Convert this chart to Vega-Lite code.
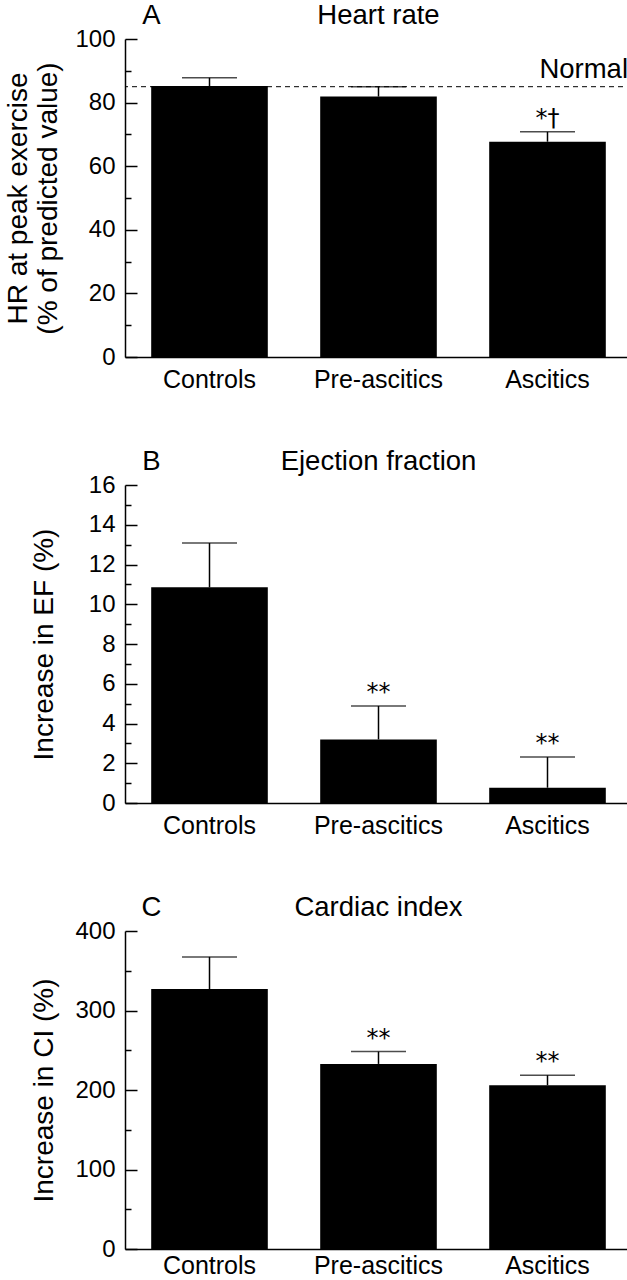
{
  "$schema": "https://vega.github.io/schema/vega-lite/v6.json",
  "background": "white",
  "padding": {"left": 4, "top": 2, "right": 0, "bottom": 0},
  "spacing": 128,
  "bounds": "flush",
  "config": {
    "view": {"stroke": null},
    "font": "Liberation Sans",
    "axis": {
      "domainColor": "black", "domainWidth": 1.5, "tickColor": "black", "tickWidth": 1.5,
      "labelColor": "black", "titleColor": "black", "labelFontSize": 24, "titleFontSize": 28,
      "titleFontWeight": "normal", "grid": false, "labelFont": "Liberation Sans", "titleFont": "Liberation Sans"
    },
    "axisX": {"tickSize": -14, "tickOffset": 84.5, "labelPadding": 24, "labelAngle": 0, "labelFontSize": 25},
    "axisY": {"tickSize": -12, "labelPadding": 22},
    "text": {"font": "Liberation Sans", "color": "black", "fontWeight": "normal"}
  },
  "vconcat": [
    {
      "width": 507, "height": 318,
      "data": {"values": [
        {"group": "Controls", "value": 85.2, "upper": 87.8},
        {"group": "Pre-ascitics", "value": 81.9, "upper": 85.0},
        {"group": "Ascitics", "value": 67.7, "upper": 70.8, "sig": "*†"}
      ]},
      "resolve": {"axis": {"y": "independent"}},
      "layer": [
        {"mark": {"type": "bar", "color": "black"},
         "encoding": {
           "x": {"field": "group", "type": "nominal", "title": null, "scale": {"domain": ["Controls", "Pre-ascitics", "Ascitics"], "paddingInner": 0.31, "paddingOuter": 0.155}},
           "y": {"field": "value", "type": "quantitative", "scale": {"domain": [0, 100], "nice": false},
                 "axis": {"values": [0, 20, 40, 60, 80, 100], "title": ["HR at peak exercise", "(% of predicted value)"], "titlePadding": 12, "orient": "left"}}}},
        {"mark": {"type": "rule", "color": "black", "strokeWidth": 1.5},
         "encoding": {
           "x": {"field": "group", "type": "nominal", "title": null},
           "y": {"field": "value", "type": "quantitative", "axis": {"values": [10, 30, 50, 70, 90], "labels": false, "domain": false, "title": null, "tickSize": -6, "orient": "left"}},
           "y2": {"field": "upper"}}},
        {"mark": {"type": "tick", "color": "black", "thickness": 1.5, "size": 55},
         "encoding": {
           "x": {"field": "group", "type": "nominal", "title": null},
           "y": {"field": "upper", "type": "quantitative", "axis": null}}},
        {"transform": [{"filter": "isValid(datum.sig)"}],
         "mark": {"type": "text", "baseline": "alphabetic", "dy": -6, "fontSize": 24, "font": "DejaVu Sans"},
         "encoding": {
           "x": {"field": "group", "type": "nominal", "title": null},
           "y": {"field": "upper", "type": "quantitative", "axis": null},
           "text": {"field": "sig"}}},
        {"data": {"values": [{"label": "Normal", "level": 85}]},
         "layer": [
           {"mark": {"type": "rule", "strokeDash": [5, 4], "strokeWidth": 1, "color": "black"},
            "encoding": {"y": {"field": "level", "type": "quantitative", "axis": null}}},
           {"mark": {"type": "text", "align": "right", "baseline": "alphabetic", "dy": -9, "dx": -4, "fontSize": 27.5, "x": {"expr": "width"}},
            "encoding": {"y": {"field": "level", "type": "quantitative", "axis": null}, "text": {"field": "label"}}}
         ]},
        {"data": {"values": [{"panel": "A", "title": "Heart rate", "top": 100}]},
         "layer": [
           {"mark": {"type": "text", "align": "center", "baseline": "alphabetic", "dy": -15, "fontSize": 27.5, "x": {"expr": "width / 2"}},
            "encoding": {"y": {"field": "top", "type": "quantitative", "axis": null}, "text": {"field": "title"}}},
           {"mark": {"type": "text", "align": "center", "baseline": "alphabetic", "dy": -15, "dx": -58, "fontSize": 27.5},
            "encoding": {"x": {"datum": "Controls"}, "y": {"field": "top", "type": "quantitative", "axis": null}, "text": {"field": "panel"}}}
         ]}
      ]
    },
    {
      "width": 507, "height": 318,
      "data": {"values": [
        {"group": "Controls", "value": 10.85, "upper": 13.08},
        {"group": "Pre-ascitics", "value": 3.2, "upper": 4.88, "sig": "**"},
        {"group": "Ascitics", "value": 0.77, "upper": 2.31, "sig": "**"}
      ]},
      "resolve": {"axis": {"y": "independent"}},
      "layer": [
        {"mark": {"type": "bar", "color": "black"},
         "encoding": {
           "x": {"field": "group", "type": "nominal", "title": null, "scale": {"domain": ["Controls", "Pre-ascitics", "Ascitics"], "paddingInner": 0.31, "paddingOuter": 0.155}},
           "y": {"field": "value", "type": "quantitative", "scale": {"domain": [0, 16], "nice": false},
                 "axis": {"values": [0, 2, 4, 6, 8, 10, 12, 14, 16], "title": "Increase in EF (%)", "titlePadding": 30, "orient": "left"}}}},
        {"mark": {"type": "rule", "color": "black", "strokeWidth": 1.5},
         "encoding": {
           "x": {"field": "group", "type": "nominal", "title": null},
           "y": {"field": "value", "type": "quantitative", "axis": {"values": [1, 3, 5, 7, 9, 11, 13, 15], "labels": false, "domain": false, "title": null, "tickSize": -6, "orient": "left"}},
           "y2": {"field": "upper"}}},
        {"mark": {"type": "tick", "color": "black", "thickness": 1.5, "size": 55},
         "encoding": {
           "x": {"field": "group", "type": "nominal", "title": null},
           "y": {"field": "upper", "type": "quantitative", "axis": null}}},
        {"transform": [{"filter": "isValid(datum.sig)"}],
         "mark": {"type": "text", "baseline": "alphabetic", "dy": -6, "fontSize": 24, "font": "DejaVu Sans"},
         "encoding": {
           "x": {"field": "group", "type": "nominal", "title": null},
           "y": {"field": "upper", "type": "quantitative", "axis": null},
           "text": {"field": "sig"}}},
        {"data": {"values": [{"panel": "B", "title": "Ejection fraction", "top": 16}]},
         "layer": [
           {"mark": {"type": "text", "align": "center", "baseline": "alphabetic", "dy": -15, "fontSize": 27.5, "x": {"expr": "width / 2"}},
            "encoding": {"y": {"field": "top", "type": "quantitative", "axis": null}, "text": {"field": "title"}}},
           {"mark": {"type": "text", "align": "center", "baseline": "alphabetic", "dy": -15, "dx": -58, "fontSize": 27.5},
            "encoding": {"x": {"datum": "Controls"}, "y": {"field": "top", "type": "quantitative", "axis": null}, "text": {"field": "panel"}}}
         ]}
      ]
    },
    {
      "width": 507, "height": 318,
      "data": {"values": [
        {"group": "Controls", "value": 326.9, "upper": 367.4},
        {"group": "Pre-ascitics", "value": 232.8, "upper": 248.3, "sig": "**"},
        {"group": "Ascitics", "value": 206.0, "upper": 218.6, "sig": "**"}
      ]},
      "resolve": {"axis": {"y": "independent"}},
      "layer": [
        {"mark": {"type": "bar", "color": "black"},
         "encoding": {
           "x": {"field": "group", "type": "nominal", "title": null, "scale": {"domain": ["Controls", "Pre-ascitics", "Ascitics"], "paddingInner": 0.31, "paddingOuter": 0.155},
                 "axis": {"labelPadding": 18}},
           "y": {"field": "value", "type": "quantitative", "scale": {"domain": [0, 400], "nice": false},
                 "axis": {"values": [0, 100, 200, 300, 400], "title": "Increase in CI (%)", "titlePadding": 16, "orient": "left"}}}},
        {"mark": {"type": "rule", "color": "black", "strokeWidth": 1.5},
         "encoding": {
           "x": {"field": "group", "type": "nominal", "title": null},
           "y": {"field": "value", "type": "quantitative", "axis": {"values": [50, 150, 250, 350], "labels": false, "domain": false, "title": null, "tickSize": -6, "orient": "left"}},
           "y2": {"field": "upper"}}},
        {"mark": {"type": "tick", "color": "black", "thickness": 1.5, "size": 55},
         "encoding": {
           "x": {"field": "group", "type": "nominal", "title": null},
           "y": {"field": "upper", "type": "quantitative", "axis": null}}},
        {"transform": [{"filter": "isValid(datum.sig)"}],
         "mark": {"type": "text", "baseline": "alphabetic", "dy": -6, "fontSize": 24, "font": "DejaVu Sans"},
         "encoding": {
           "x": {"field": "group", "type": "nominal", "title": null},
           "y": {"field": "upper", "type": "quantitative", "axis": null},
           "text": {"field": "sig"}}},
        {"data": {"values": [{"panel": "C", "title": "Cardiac index", "top": 400}]},
         "layer": [
           {"mark": {"type": "text", "align": "center", "baseline": "alphabetic", "dy": -15, "fontSize": 27.5, "x": {"expr": "width / 2"}},
            "encoding": {"y": {"field": "top", "type": "quantitative", "axis": null}, "text": {"field": "title"}}},
           {"mark": {"type": "text", "align": "center", "baseline": "alphabetic", "dy": -15, "dx": -58, "fontSize": 27.5},
            "encoding": {"x": {"datum": "Controls"}, "y": {"field": "top", "type": "quantitative", "axis": null}, "text": {"field": "panel"}}}
         ]}
      ]
    }
  ]
}
